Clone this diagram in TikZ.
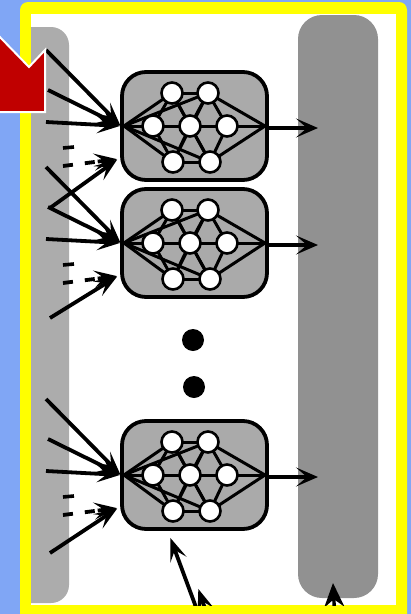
\documentclass[tikz,border=0pt]{standalone}
\usetikzlibrary{arrows.meta}
\definecolor{bgblue}{RGB}{128,166,245}
\definecolor{frameyellow}{RGB}{255,255,0}
\definecolor{arrowred}{RGB}{192,0,0}
\definecolor{modgray}{RGB}{170,170,170}
\definecolor{lbargray}{RGB}{172,172,172}
\definecolor{rbargray}{RGB}{145,145,145}
\begin{document}
\begin{tikzpicture}[x=1pt,y=-1pt,
  wire/.style={line width=3pt, line cap=round},
  tick/.style={line width=3.6pt},
  inarrow/.style={line width=3.8pt, shorten >=1pt, -{Stealth[length=23pt,width=17pt,inset=10pt]}},
  dasharrow/.style={inarrow, dash pattern=on 10pt off 12pt on 10pt off 3pt on 60pt},
  outarrow/.style={line width=3.4pt, -{Stealth[length=22pt,width=19pt,inset=11pt]}},
  neuron/.style={circle, draw, line width=2.6pt, fill=white, minimum size=21pt, inner sep=0pt},
  module/.style={draw, line width=3.8pt, rounded corners=24pt, fill=modgray, minimum width=145pt, minimum height=108pt, inner sep=0pt},
  bigdot/.style={circle, fill=black, minimum size=22pt, inner sep=0pt}]
\useasboundingbox (0,0) rectangle (411,614);
% background and frame
\fill[bgblue] (0,0) rectangle (411,614);
\fill[frameyellow, rounded corners=8pt] (20,2) rectangle (407,640);
\fill[white] (31,14) rectangle (396,605);
\begin{scope}
\clip (31,14) rectangle (396,605);
% bars
\fill[lbargray, rounded corners=18pt] (10,27) rectangle (69,603);
\fill[rbargray, rounded corners=24pt] (298,15) rectangle (378,598);
% modules
\foreach \m/\cy/\ly in {1/126/208, 2/243/318, 3/475/553}{
  \node[module] (mod\m) at (194.5,\cy) {};
  \coordinate (lin\m) at (124,\cy);
  \coordinate (rout\m) at (265,\cy);
  \coordinate (tl\m) at (172,\cy-33);
  \coordinate (tr\m) at (208,\cy-33);
  \coordinate (ml\m) at (153,\cy);
  \coordinate (mc\m) at (190,\cy);
  \coordinate (mr\m) at (227,\cy);
  \coordinate (bl\m) at (173,\cy+36);
  \coordinate (br\m) at (210,\cy+36);
  \foreach \a/\b in {lin/tl, lin/ml, lin/bl, lin/mc, lin/tr, lin/br,
                     tl/mc, tl/tr, tl/br, ml/tl, ml/mc, ml/bl, bl/mc, bl/br, bl/tr,
                     mc/tr, mc/br, mc/mr, tr/mr, br/mr, tr/rout, mr/rout, br/rout}{
    \draw[wire] (\a\m) -- (\b\m);
  }
  \foreach \n in {tl,tr,ml,mc,mr,bl,br}{
    \node[neuron] (n\n\m) at (\n\m) {};
  }
  % input arrows
  \coordinate (ia\m) at (46,\cy-76);
  \coordinate (ib\m) at (48,\cy-36);
  \coordinate (ic\m) at (46,\cy-4);
  \coordinate (lt\m) at (121,\cy);
  \coordinate (tip\m) at (118,\cy+33);
  \coordinate (lo\m) at (50,\ly);
  \coordinate (dd\m) at (63,\cy+40);
  \draw[inarrow] (ia\m) -- (lt\m);
  \draw[inarrow] (ib\m) -- (lt\m);
  \draw[inarrow] (ic\m) -- (lt\m);
  \draw[inarrow] (lo\m) -- (tip\m);
  \draw[dasharrow] (dd\m) -- (tip\m);
  \draw[tick] (63,\cy+22) -- (74,\cy+21);
  % output arrow
  \coordinate (ob\m) at (318,\cy+2);
  \draw[outarrow] (mod\m.east |- ob\m) -- (ob\m);
}
% dots
\node[bigdot] (dot1) at (193,340) {};
\node[bigdot] (dot2) at (194,387) {};
% bottom arrows
\coordinate (ba1) at (200,618);
\coordinate (bt1) at (170,537);
\coordinate (ba2) at (214,635);
\coordinate (bt2) at (198,588);
\coordinate (ba3) at (336,640);
\coordinate (bt3) at (333,583);
\draw[inarrow] (ba1) -- (bt1);
\draw[inarrow] (ba2) -- (bt2);
\draw[line width=3.4pt, -{Stealth[length=24pt,width=20pt]}] (ba3) -- (bt3);
\end{scope}
% red arrow
\draw[fill=arrowred, draw=white, line width=2pt, line join=miter]
  (-5,32) -- (29,67) -- (45,50) -- (45,112) -- (-5,112) -- cycle;
\end{tikzpicture}
\end{document}
